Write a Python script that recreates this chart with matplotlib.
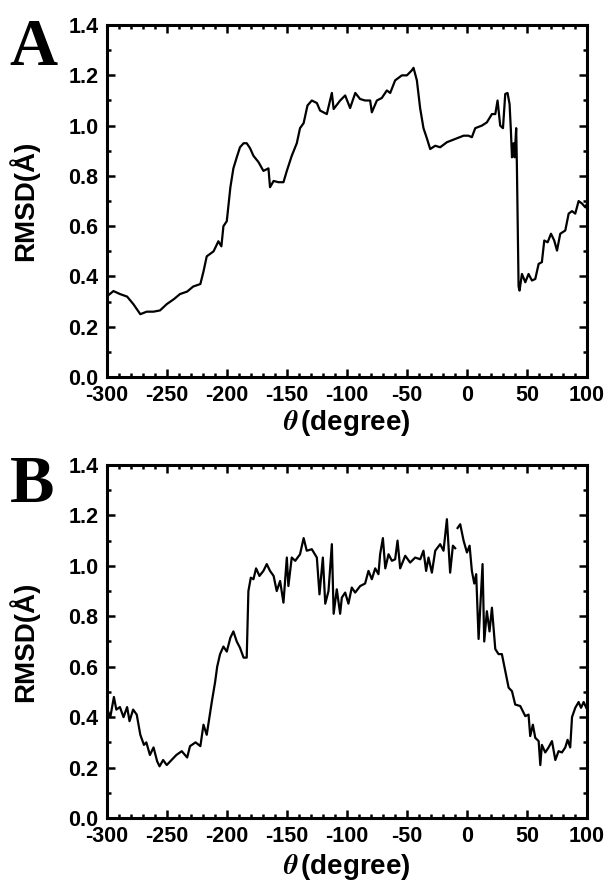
import numpy as np
import matplotlib.pyplot as plt
from matplotlib.ticker import MultipleLocator

plt.rcParams['font.family'] = ['Liberation Sans', 'DejaVu Sans']
plt.rcParams['font.weight'] = 'bold'
plt.rcParams['mathtext.fontset'] = 'stix'
plt.rcParams['axes.unicode_minus'] = False

# panel A: RMSD vs theta
theta_a = [-300, -294.4, -288.9, -283, -277.8, -272, -266.7, -261, -255.6, -250,
           -244, -239, -233, -228, -222, -219.4, -216.7, -211, -207, -204.5,
           -202.8, -200, -197, -194.5, -191.7, -189, -186, -183.4, -180.6, -177.8,
           -173.6, -169.5, -165.3, -164, -161, -157, -152.8, -150, -145.9, -141.7,
           -139, -136, -132.8, -129.2, -125, -122.3, -116.7, -112.5, -111, -105.6,
           -101.4, -97.3, -93, -89, -84.8, -80.6, -79.2, -75, -70.9, -66.7,
           -63.9, -59.8, -54.2, -50, -45.9, -44.5, -41.7, -39, -36.2, -33.4,
           -30.6, -26.4, -22.3, -16.7, -9.8, -2.8, 1.3, 4.1, 6.9, 12.4,
           16.6, 20.8, 23.6, 25.5, 27.7, 30, 31.9, 33.8, 35.5, 36.6,
           37.5, 38.8, 39.7, 41, 41.6, 43, 43.8, 45.8, 48.6, 51.3,
           54.1, 56.9, 59.7, 62.4, 64.4, 67.2, 70, 72.7, 75, 77.7,
           81.9, 84.7, 87.5, 90.2, 93, 95.8, 98.6, 100]
rmsd_a = [0.32, 0.342, 0.33, 0.32, 0.29, 0.25, 0.26, 0.26, 0.265, 0.29,
          0.31, 0.33, 0.34, 0.36, 0.37, 0.42, 0.48, 0.50, 0.54, 0.52,
          0.60, 0.62, 0.755, 0.83, 0.874, 0.914, 0.93, 0.93, 0.91, 0.88,
          0.855, 0.82, 0.83, 0.755, 0.78, 0.775, 0.775, 0.82, 0.88, 0.93,
          0.99, 1.01, 1.08, 1.10, 1.09, 1.06, 1.046, 1.13, 1.066, 1.10,
          1.12, 1.07, 1.13, 1.106, 1.10, 1.10, 1.053, 1.10, 1.11, 1.14,
          1.13, 1.18, 1.20, 1.20, 1.22, 1.23, 1.18, 1.07, 0.99, 0.95,
          0.907, 0.92, 0.914, 0.934, 0.947, 0.96, 0.96, 0.954, 0.99, 1.0,
          1.013, 1.046, 1.046, 1.10, 1.0, 0.99, 1.126, 1.13, 1.086, 0.98,
          0.874, 0.93, 0.874, 0.99, 0.84, 0.36, 0.344, 0.41, 0.377, 0.41,
          0.384, 0.39, 0.45, 0.457, 0.543, 0.536, 0.57, 0.543, 0.503, 0.57,
          0.583, 0.65, 0.66, 0.65, 0.70, 0.69, 0.675, 0.69]

# panel B: RMSD vs theta (nan = gap in the trace)
theta_b = [-300, -297, -294, -292, -289, -286, -283, -281, -278, -275,
           -272, -269, -267, -264, -261, -258, -256, -253, -250, -246,
           -242, -237.5, -233, -230.6, -226, -222, -219.4, -216.7, -212.5, -209.7,
           -208, -205.6, -202.8, -200, -197, -194.5, -191.7, -189, -186, -183.4,
           -182, -180, -177.8, -175.6, -172.8, -169.5, -166.7, -164, -161, -158.4,
           -155.6, -152.8, -150, -148.7, -145.9, -143, -139, -136, -133.4, -129.2,
           -125, -122.8, -120, -118, -115.3, -112.5, -111, -108.4, -105.6, -104.2,
           -101.4, -98.7, -95.9, -93.1, -88.9, -84.8, -82, -79.2, -76.4, -73.7,
           -72.3, -70, -68, -65.3, -62.5, -59.8, -57.8, -55.6, -51.4, -47.3,
           -43.1, -38.9, -36.2, -34, -32, -29.2, -26.4, -22.3, -19.5, -16.7,
           -14, -11.7, -9.8, -8.5, -7.8, -5.6, -2.8, 0, 2.2, 4.1,
           6.1, 7.7, 9.7, 11.1, 13, 14.4, 16.6, 18.8, 20.8, 23.6,
           26.3, 29.1, 31.9, 34.7, 37.5, 40.2, 44.4, 48.6, 51.3, 52.7,
           54.9, 56.9, 59.7, 61.1, 62.4, 65.2, 68, 70.8, 73.6, 76.3,
           79.1, 81.9, 83.8, 86, 87.5, 90.2, 93, 95, 97.2, 99.4]
rmsd_b = [0.437, 0.40, 0.48, 0.43, 0.44, 0.40, 0.44, 0.384, 0.43, 0.41,
          0.33, 0.29, 0.30, 0.25, 0.28, 0.225, 0.205, 0.23, 0.21, 0.23,
          0.25, 0.265, 0.24, 0.285, 0.30, 0.285, 0.37, 0.33, 0.46, 0.54,
          0.60, 0.65, 0.68, 0.66, 0.715, 0.74, 0.70, 0.675, 0.636, 0.636,
          0.90, 0.953, 0.947, 0.99, 0.96, 0.98, 1.007, 0.98, 0.96, 0.90,
          0.94, 0.854, 1.033, 0.92, 1.033, 1.02, 1.046, 1.11, 1.06, 1.066,
          1.033, 0.887, 1.033, 0.85, 0.90, 1.086, 0.81, 0.907, 0.81, 0.874,
          0.894, 0.85, 0.914, 0.894, 0.92, 0.93, 0.98, 0.947, 0.99, 0.967,
          1.046, 1.11, 0.99, 1.046, 1.02, 1.026, 1.10, 0.99, 1.04, 1.013,
          1.033, 1.026, 1.06, 0.98, 1.033, 0.973, 1.06, 1.086, 1.06, 1.185,
          0.973, 1.08, 1.07, np.nan, 1.15, 1.165, 1.10, 1.053, 1.08, 0.98,
          0.93, 0.967, 0.71, 0.834, 1.007, 0.70, 0.82, 0.74, 0.834, 0.67,
          0.65, 0.65, 0.583, 0.517, 0.503, 0.45, 0.444, 0.404, 0.41, 0.325,
          0.37, 0.318, 0.305, 0.21, 0.29, 0.26, 0.28, 0.305, 0.23, 0.265,
          0.26, 0.28, 0.31, 0.28, 0.40, 0.437, 0.46, 0.437, 0.46, 0.437]

fig = plt.figure(figsize=(6.08, 8.83), dpi=100)
ax_a = fig.add_axes([0.1755, 0.573, 0.790, 0.3986])
ax_b = fig.add_axes([0.1755, 0.0736, 0.790, 0.3998])

panels = [(ax_a, theta_a, rmsd_a, 'A', 0.926, -0.088),
          (ax_b, theta_b, rmsd_b, 'B', 0.4315, -0.096)]
for ax, x, y, letter, ly, xl in panels:
    ax.plot(x, y, color='black', linewidth=1.6)
    ax.set_xlim(-300, 100)
    ax.set_ylim(0, 1.4)
    ax.xaxis.set_major_locator(MultipleLocator(50))
    ax.xaxis.set_minor_locator(MultipleLocator(10))
    ax.yaxis.set_major_locator(MultipleLocator(0.2))
    ax.yaxis.set_minor_locator(MultipleLocator(0.1))
    ax.yaxis.set_major_formatter(plt.FormatStrFormatter('%.1f'))
    ax.tick_params(which='both', direction='in', top=True, right=True, width=1.8)
    ax.tick_params(which='major', length=6, labelsize=15.5)
    ax.tick_params(axis='x', which='major', pad=6)
    ax.tick_params(axis='y', which='major', pad=6)
    ax.tick_params(which='minor', length=3)
    for s in ax.spines.values():
        s.set_linewidth(2.2)
    ax.set_ylabel('RMSD(Å)', fontsize=20, fontweight='bold')
    ax.yaxis.set_label_coords(-0.14, 0.5)
    ax.set_xlabel(r'$\theta\,$(degree)', fontsize=20, fontweight='bold')
    ax.xaxis.set_label_coords(0.5, xl)
    fig.text(0.016, ly, letter, fontsize=48, fontweight='bold',
             family='Liberation Serif', va='baseline', ha='left')

fig.savefig('out.png', dpi=100)
